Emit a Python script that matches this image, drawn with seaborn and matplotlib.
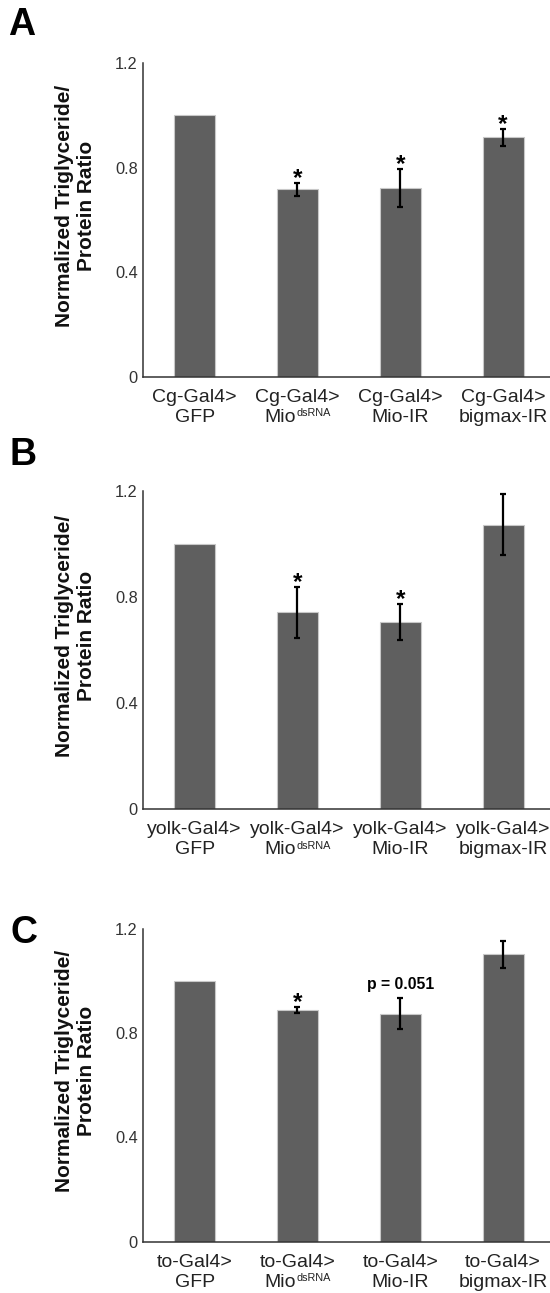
import numpy as np
import pandas as pd
import matplotlib
matplotlib.use("Agg")
import matplotlib.pyplot as plt
import seaborn as sns

# values (mean and error bar half-length)
drivers = ["Cg-Gal4>", "yolk-Gal4>", "to-Gal4>"]
targets = ["GFP", "Mio", "Mio-IR", "bigmax-IR"]
target_sups = ["", "dsRNA", "", ""]

means_a = [1.0, 0.717, 0.722, 0.917]
errs_a = [0.0, 0.025, 0.072, 0.032]
notes_a = ["", "*", "*", "*"]

means_b = [1.0, 0.742, 0.707, 1.072]
errs_b = [0.0, 0.096, 0.068, 0.115]
notes_b = ["", "*", "*", ""]

means_c = [1.0, 0.889, 0.875, 1.103]
errs_c = [0.0, 0.013, 0.059, 0.052]
notes_c = ["", "*", "p = 0.051", ""]

panel_letters = ["A", "B", "C"]
yticks = [0, 0.4, 0.8, 1.2]
ytick_labels = ["0", "0.4", "0.8", "1.2"]

sns.set_style("white")
plt.rcParams["font.family"] = ["Liberation Sans", "DejaVu Sans"]

fig = plt.figure(figsize=(5.5, 12.93), dpi=100)
renderer = fig.canvas.get_renderer()
px2pt = 72 / fig.dpi

# axes boxes in figure fractions (left, bottom, width, height)
boxes = [
    [0.2605, 0.7087, 0.7395, 0.2424],
    [0.2605, 0.3741, 0.7395, 0.2462],
    [0.2605, 0.0397, 0.7395, 0.2418],
]
letter_pos = [(8, 35), (10, 465), (10, 943)]

panels = [(means_a, errs_a, notes_a), (means_b, errs_b, notes_b), (means_c, errs_c, notes_c)]
lab_kw = dict(xycoords=("data", "axes fraction"), textcoords="offset points",
              va="baseline", color="#222222")

for k, (means, errs, notes) in enumerate(panels):
    ax = fig.add_axes(boxes[k])
    df = pd.DataFrame({"genotype": targets, "ratio": means, "err": errs})

    sns.barplot(data=df, x="genotype", y="ratio", ax=ax, color="#5f5f5f",
                saturation=1, width=0.4, errorbar=None,
                edgecolor="#c8c8c8", linewidth=0.8)

    xs = np.arange(len(df))
    has_err = df["err"] > 0
    ax.errorbar(xs[has_err], df["ratio"][has_err], yerr=df["err"][has_err],
                fmt="none", ecolor="black", elinewidth=1.6, capsize=2.2, capthick=1.6)

    for i, note in enumerate(notes):
        if not note:
            continue
        top = means[i] + errs[i]
        if note == "*":
            ax.annotate(note, (i, top), xytext=(0, -1.5), textcoords="offset points",
                        ha="center", va="baseline", fontsize=17.5, fontweight="bold",
                        color="black")
        else:
            ax.annotate(note, (i, top), xytext=(0, 6.5), textcoords="offset points",
                        ha="center", va="baseline", fontsize=11.3, fontweight="bold",
                        color="black")

    # two-line genotype labels on fixed baselines; superscript drawn as its own text
    for i, (t, sup) in enumerate(zip(targets, target_sups)):
        ax.annotate(drivers[k], (i, 0), xytext=(0, -18), ha="center", fontsize=14, **lab_kw)
        main = ax.annotate(t, (i, 0), xytext=(0, -32.4), ha="left", fontsize=14, **lab_kw)
        w_main = main.get_window_extent(renderer).width * px2pt
        if sup:
            small = ax.annotate(sup, (i, 0), xytext=(0, -28.6), ha="left", fontsize=7.8, **lab_kw)
            w_sup = small.get_window_extent(renderer).width * px2pt
            total = w_main + w_sup + 0.5
            main.xyann = (-total / 2, -32.4)
            small.xyann = (-total / 2 + w_main + 0.5, -28.6)
        else:
            main.xyann = (-w_main / 2, -32.4)

    ax.set_xlim(-0.5, 3.456)
    ax.set_ylim(0, 1.2)
    ax.set_yticks(yticks)
    ax.set_yticklabels(ytick_labels)
    ax.set_yticks([0.2, 0.6, 1.0], minor=True)
    ax.set_xticks([0.5, 1.5, 2.5], minor=True)
    ax.set_xticklabels([])

    ax.tick_params(axis="y", which="major", direction="out", length=3, width=1,
                   color="#333333", labelsize=11.8, labelcolor="#333333", pad=1)
    ax.tick_params(axis="y", which="minor", direction="out", length=2, width=0.6,
                   color="#dddddd")
    ax.tick_params(axis="x", which="major", length=0)
    ax.tick_params(axis="x", which="minor", direction="out", length=4, width=1,
                   color="#333333")

    ax.set_xlabel("")
    ax.set_ylabel("")
    sns.despine(ax=ax)
    for side in ["left", "bottom"]:
        ax.spines[side].set_color("#333333")
        ax.spines[side].set_linewidth(1.1)

    ax.text(-0.167, 0.545, "Normalized Triglyceride/\nProtein Ratio", transform=ax.transAxes,
            rotation=90, ha="center", va="center", multialignment="center",
            fontsize=15, fontweight="bold", color="#111111")

    lx, ly = letter_pos[k]
    fig.text(lx / 550, 1 - ly / 1293, panel_letters[k], fontsize=27, fontweight="bold",
             ha="left", va="baseline", color="black")

fig.savefig("out.png", dpi=100)
